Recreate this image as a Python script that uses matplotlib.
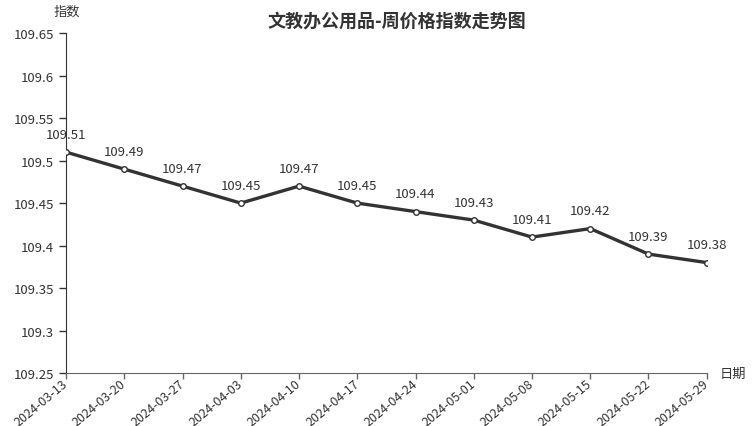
import numpy as np
import matplotlib.pyplot as plt

plt.rcParams['font.family'] = ['Noto Sans CJK SC', 'DejaVu Sans']

dates = ['2024-03-13', '2024-03-20', '2024-03-27', '2024-04-03', '2024-04-10', '2024-04-17',
         '2024-04-24', '2024-05-01', '2024-05-08', '2024-05-15', '2024-05-22', '2024-05-29']
values = [109.51, 109.49, 109.47, 109.45, 109.47, 109.45, 109.44, 109.43, 109.41, 109.42, 109.39, 109.38]
yticks = [109.25, 109.3, 109.35, 109.4, 109.45, 109.5, 109.55, 109.6, 109.65]

fig = plt.figure(figsize=(7.52, 4.27), dpi=100)
ax = fig.add_axes([0.0878, 0.124, 0.852, 0.796])

x = np.arange(len(dates))
ax.plot(x, values, color='#333333', linewidth=2.4, marker='o', markersize=4,
        markerfacecolor='white', markeredgecolor='#333333', markeredgewidth=1, zorder=3)
for xi, v in zip(x, values):
    ax.annotate(f'{v:g}', (xi, v), xytext=(0, 8), textcoords='offset points',
                ha='center', va='bottom', fontsize=9.5, color='#333333')

ax.set_xlim(0, len(dates) - 1)
ax.set_ylim(109.25, 109.65)
ax.set_yticks(yticks)
ax.set_yticklabels([f'{t:g}' for t in yticks])
ax.set_xticks(x)
ax.set_xticklabels(dates, rotation=40, ha='right', va='center', rotation_mode='anchor')

for s in ['top', 'right']:
    ax.spines[s].set_visible(False)
ax.spines['left'].set_color('#333333')
ax.spines['bottom'].set_color('#666666')
ax.tick_params(axis='both', colors='#333333', labelsize=9.5, length=5, width=1)
ax.tick_params(axis='x', colors='#666666', labelcolor='#333333', labelsize=9, length=4, pad=2)

fig.text(0.528, 0.95, '文教办公用品-周价格指数走势图', ha='center', va='center',
         fontsize=13, fontweight='bold', color='#333333')
fig.text(0.089, 0.972, '指数', ha='center', va='center', fontsize=9.5, color='#333333')
fig.text(0.975, 0.124, '日期', ha='center', va='center', fontsize=9.5, color='#333333')

fig.savefig('out.png', dpi=100)
